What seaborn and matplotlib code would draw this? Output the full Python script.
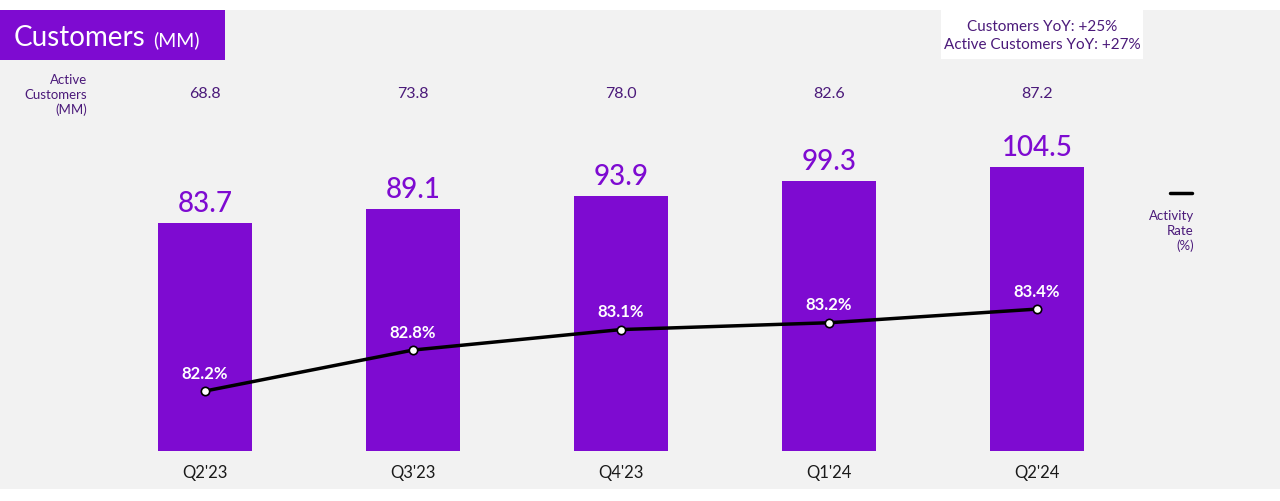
import numpy as np
import pandas as pd
import seaborn as sns
import matplotlib.pyplot as plt
from matplotlib.patches import Rectangle

# donnees
quarters = ["Q2'23", "Q3'23", "Q4'23", "Q1'24", "Q2'24"]
customers = [83.7, 89.1, 93.9, 99.3, 104.5]
active_customers = [68.8, 73.8, 78.0, 82.6, 87.2]
activity_rate = [82.2, 82.8, 83.1, 83.2, 83.4]

purple = '#7e0bd1'
dark_purple = '#4b1a7a'
bg = '#f2f2f2'

sns.set_theme(style='white')
plt.rcParams['font.family'] = ['Lato', 'DejaVu Sans']

df = pd.DataFrame({'Quarter': quarters, 'Customers': customers,
                   'Active': active_customers, 'Rate': activity_rate})

W, H = 1280, 502
fig = plt.figure(figsize=(12.8, 5.02), dpi=100)
fig.patch.set_facecolor('white')

# zone grise : y 11 -> 490 px
ax = fig.add_axes([0, 12 / H, 1, 479 / H])
ax.set_facecolor(bg)

sns.barplot(data=df, x='Quarter', y='Customers', color=purple, width=0.455,
            saturation=1, linewidth=0, ax=ax)
ax.set_xlim(-0.986, 5.168)
ax.set_ylim(-13.97, 162.1)
for s in ax.spines.values():
    s.set_visible(False)
ax.set_yticks([])
ax.set_xlabel('')
ax.set_ylabel('')
ax.tick_params(axis='x', length=0, pad=-18, labelsize=12, labelcolor='#1a1a1a')

for i, v in enumerate(customers):
    ax.text(i, v + 2.5, f'{v:.1f}', ha='center', va='bottom', fontsize=20,
            color=purple, fontweight='medium')

# ligne taux d'activite
ax2 = ax.twinx()
sns.lineplot(data=df, x='Quarter', y='Rate', color='black', linewidth=2.5,
             marker='o', markersize=6, markerfacecolor='white',
             markeredgecolor='black', markeredgewidth=1.2, ax=ax2)
ax2.set_ylim(80.765, 87.78)
ax2.set_yticks([])
ax2.set_ylabel('')
for s in ax2.spines.values():
    s.set_visible(False)
for i, r in enumerate(activity_rate):
    ax2.text(i, r + 0.27, f'{r:.1f}%', ha='center', va='center', fontsize=12,
             color='white', fontweight='bold')

# clients actifs
for i, a in enumerate(active_customers):
    fig.text((205 + 208 * i) / W, 1 - 94 / H, f'{a:.1f}', ha='center', va='center',
             fontsize=11.5, color=dark_purple)
fig.text(87 / W, 1 - 95 / H, 'Active\nCustomers\n(MM)', ha='right', va='center',
         fontsize=9.5, color=dark_purple, linespacing=1.25)

# titre
fig.patches.append(Rectangle((0, 1 - 61 / H), 225 / W, 50 / H, transform=fig.transFigure,
                             facecolor=purple, edgecolor='none', zorder=5))
fig.text(14 / W, 1 - 38 / H, 'Customers', ha='left', va='center', fontsize=20,
         color='white', zorder=6)
fig.text(153 / W, 1 - 40 / H, '(MM)', ha='left', va='center', fontsize=14,
         color='white', zorder=6)

# encadre YoY
fig.patches.append(Rectangle((941 / W, 1 - 60 / H), 202 / W, 49 / H, transform=fig.transFigure,
                             facecolor='white', edgecolor='none', zorder=5))
fig.text(1042 / W, 1 - 36 / H, 'Customers YoY: +25%\nActive Customers YoY: +27%',
         ha='center', va='center', fontsize=11, color=dark_purple, zorder=6,
         linespacing=1.3)

# legende
fig.lines.append(plt.Line2D([1170 / W, 1192 / W], [1 - 194 / H, 1 - 194 / H],
                            transform=fig.transFigure, color='black', linewidth=2.5))
fig.text(1194 / W, 1 - 231 / H, 'Activity\nRate\n(%)', ha='right', va='center',
         fontsize=9.5, color=dark_purple, linespacing=1.25)

fig.savefig('out.png', dpi=100, facecolor='white')
